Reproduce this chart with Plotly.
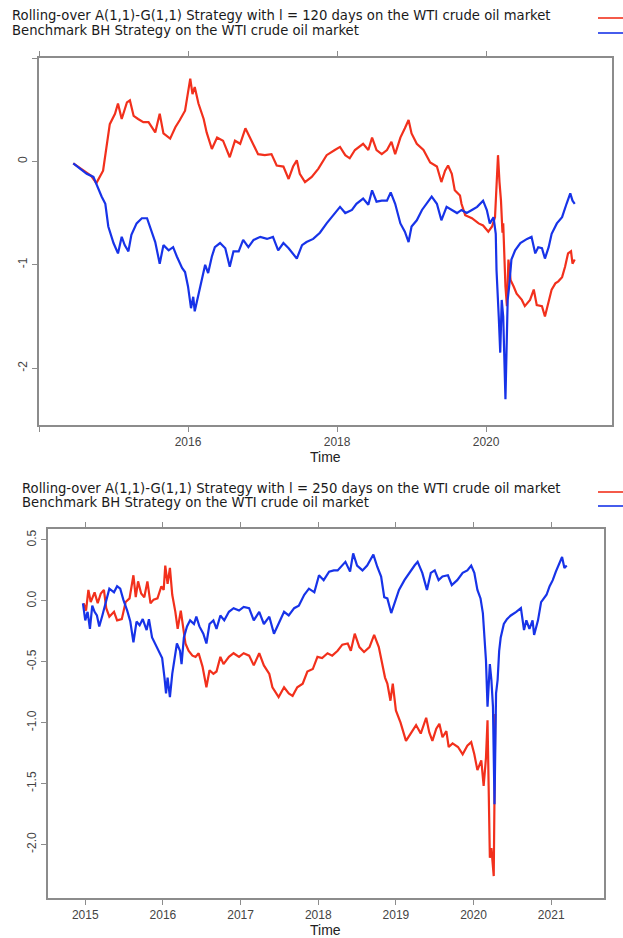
import plotly.graph_objects as go

# ---- Panel 1: l = 120 days ----
p1_red_t = [2014.46, 2014.55, 2014.62, 2014.70, 2014.77, 2014.86, 2014.91, 2014.95, 2015.02, 2015.06,
            2015.11, 2015.18, 2015.22, 2015.27, 2015.33, 2015.40, 2015.47, 2015.56, 2015.62, 2015.67,
            2015.76, 2015.83, 2015.89, 2015.96, 2016.03, 2016.06, 2016.09, 2016.14, 2016.21, 2016.25,
            2016.32, 2016.39, 2016.47, 2016.56, 2016.63, 2016.70, 2016.77, 2016.86, 2016.94, 2017.03,
            2017.12, 2017.19, 2017.28, 2017.35, 2017.41, 2017.46, 2017.50, 2017.57, 2017.66, 2017.75,
            2017.86, 2017.97, 2018.04, 2018.11, 2018.17, 2018.24, 2018.35, 2018.42, 2018.47, 2018.53,
            2018.60, 2018.67, 2018.73, 2018.78, 2018.85, 2018.91, 2018.96, 2019.00, 2019.07, 2019.16,
            2019.25, 2019.34, 2019.40, 2019.45, 2019.49, 2019.54, 2019.58, 2019.65, 2019.67, 2019.72,
            2019.81, 2019.90, 2019.96, 2020.03, 2020.08, 2020.12, 2020.14, 2020.16, 2020.18, 2020.20,
            2020.22, 2020.23, 2020.26, 2020.28, 2020.30, 2020.33, 2020.37, 2020.41, 2020.48, 2020.52,
            2020.59, 2020.64, 2020.68, 2020.75, 2020.79, 2020.84, 2020.88, 2020.93, 2020.97, 2021.02,
            2021.06, 2021.10, 2021.14, 2021.16, 2021.19]
p1_red = [-0.02, -0.07, -0.10, -0.14, -0.21, -0.09, 0.17, 0.36, 0.46, 0.56,
          0.41, 0.57, 0.59, 0.44, 0.41, 0.38, 0.38, 0.28, 0.46, 0.27,
          0.22, 0.33, 0.40, 0.49, 0.80, 0.65, 0.72, 0.56, 0.41, 0.28,
          0.12, 0.23, 0.20, 0.04, 0.20, 0.17, 0.32, 0.19, 0.07, 0.06,
          0.07, -0.04, -0.05, -0.17, -0.05, 0.01, -0.12, -0.20, -0.15, -0.07,
          0.06, 0.11, 0.14, 0.06, 0.03, 0.11, 0.17, 0.11, 0.23, 0.11,
          0.07, 0.11, 0.19, 0.07, 0.23, 0.32, 0.40, 0.27, 0.17, 0.11,
          -0.01, -0.05, -0.20, -0.09, -0.04, -0.12, -0.28, -0.33, -0.41, -0.52,
          -0.55, -0.60, -0.62, -0.68, -0.63, -0.54, -0.28, 0.06, -0.20, -0.38,
          -0.69, -0.60, -1.21, -1.40, -0.95, -1.15, -1.21, -1.28, -1.34, -1.40,
          -1.34, -1.24, -1.39, -1.40, -1.50, -1.34, -1.24, -1.18, -1.16, -1.12,
          -1.02, -0.89, -0.87, -0.99, -0.95]

p1_blue_t = [2014.46, 2014.55, 2014.64, 2014.73, 2014.80, 2014.84, 2014.89, 2014.93, 2015.00, 2015.06,
             2015.11, 2015.15, 2015.20, 2015.24, 2015.31, 2015.38, 2015.45, 2015.49, 2015.56, 2015.62,
             2015.67, 2015.74, 2015.80, 2015.85, 2015.92, 2015.96, 2016.00, 2016.04, 2016.07, 2016.09,
             2016.14, 2016.18, 2016.23, 2016.27, 2016.32, 2016.36, 2016.43, 2016.50, 2016.56, 2016.61,
             2016.68, 2016.74, 2016.81, 2016.88, 2016.97, 2017.06, 2017.14, 2017.21, 2017.28, 2017.35,
             2017.41, 2017.46, 2017.53, 2017.59, 2017.68, 2017.77, 2017.86, 2017.97, 2018.04, 2018.11,
             2018.20, 2018.26, 2018.35, 2018.42, 2018.47, 2018.53, 2018.60, 2018.67, 2018.72, 2018.78,
             2018.85, 2018.91, 2018.96, 2019.00, 2019.07, 2019.14, 2019.20, 2019.27, 2019.34, 2019.40,
             2019.47, 2019.54, 2019.61, 2019.67, 2019.74, 2019.81, 2019.88, 2019.96, 2020.01, 2020.05,
             2020.10, 2020.13, 2020.14, 2020.17, 2020.19, 2020.21, 2020.23, 2020.26, 2020.29, 2020.31,
             2020.34, 2020.39, 2020.46, 2020.55, 2020.61, 2020.66, 2020.70, 2020.75, 2020.79, 2020.84,
             2020.88, 2020.95, 2021.02, 2021.08, 2021.13, 2021.16, 2021.19]
p1_blue = [-0.02, -0.07, -0.12, -0.15, -0.28, -0.34, -0.41, -0.63, -0.79, -0.89,
           -0.73, -0.81, -0.87, -0.71, -0.60, -0.55, -0.55, -0.63, -0.78, -0.99,
           -0.81, -0.86, -0.83, -0.92, -1.03, -1.07, -1.21, -1.42, -1.31, -1.45,
           -1.28, -1.15, -1.00, -1.08, -0.92, -0.83, -0.79, -0.84, -1.02, -0.87,
           -0.87, -0.76, -0.83, -0.76, -0.73, -0.75, -0.73, -0.86, -0.79, -0.84,
           -0.89, -0.94, -0.81, -0.78, -0.75, -0.69, -0.60, -0.50, -0.44, -0.50,
           -0.47, -0.41, -0.36, -0.42, -0.28, -0.39, -0.38, -0.38, -0.30, -0.41,
           -0.60, -0.68, -0.78, -0.63, -0.57, -0.47, -0.41, -0.34, -0.41, -0.57,
           -0.44, -0.47, -0.50, -0.47, -0.50, -0.47, -0.44, -0.38, -0.47, -0.60,
           -0.54, -0.70, -1.05, -1.50, -1.85, -1.34, -1.50, -2.30, -1.34, -1.21,
           -0.95, -0.86, -0.79, -0.75, -0.73, -0.89, -0.83, -0.84, -0.94, -0.83,
           -0.70, -0.60, -0.54, -0.41, -0.31, -0.38, -0.41]

# ---- Panel 2: l = 250 days ----
p2_red_t = [2014.98, 2015.01, 2015.04, 2015.07, 2015.12, 2015.16, 2015.20, 2015.24, 2015.27, 2015.31,
            2015.37, 2015.41, 2015.47, 2015.52, 2015.57, 2015.62, 2015.65, 2015.68, 2015.72, 2015.76,
            2015.80, 2015.84, 2015.88, 2015.93, 2015.98, 2016.01, 2016.03, 2016.06, 2016.09, 2016.12,
            2016.16, 2016.19, 2016.23, 2016.26, 2016.29, 2016.33, 2016.38, 2016.42, 2016.46, 2016.51,
            2016.56, 2016.60, 2016.65, 2016.69, 2016.74, 2016.78, 2016.85, 2016.91, 2016.98, 2017.04,
            2017.11, 2017.17, 2017.24, 2017.30, 2017.37, 2017.41, 2017.45, 2017.49, 2017.56, 2017.62,
            2017.67, 2017.73, 2017.80, 2017.86, 2017.93, 2017.99, 2018.05, 2018.12, 2018.18, 2018.25,
            2018.31, 2018.38, 2018.42, 2018.47, 2018.53, 2018.59, 2018.66, 2018.72, 2018.78, 2018.83,
            2018.86, 2018.89, 2018.93, 2018.96, 2019.00, 2019.06, 2019.13, 2019.19, 2019.26, 2019.32,
            2019.39, 2019.43, 2019.47, 2019.52, 2019.56, 2019.60, 2019.65, 2019.68, 2019.73, 2019.80,
            2019.86, 2019.92, 2019.97, 2020.01, 2020.05, 2020.10, 2020.13, 2020.16, 2020.18, 2020.21,
            2020.23, 2020.26, 2020.28]
p2_red = [-0.02, -0.08, 0.09, -0.01, 0.07, -0.02, 0.06, 0.09, -0.06, -0.13,
          -0.09, -0.16, -0.15, -0.01, 0.02, 0.21, 0.03, 0.16, 0.06, 0.03,
          0.16, -0.02, 0.01, 0.02, 0.12, 0.09, 0.29, 0.14, 0.27, 0.05,
          -0.09, -0.23, -0.08, -0.24, -0.35, -0.41, -0.45, -0.46, -0.43, -0.54,
          -0.71, -0.57, -0.60, -0.58, -0.46, -0.52, -0.46, -0.43, -0.46, -0.43,
          -0.45, -0.53, -0.43, -0.53, -0.60, -0.71, -0.75, -0.79, -0.71, -0.76,
          -0.78, -0.71, -0.68, -0.58, -0.56, -0.46, -0.47, -0.43, -0.45, -0.41,
          -0.36, -0.35, -0.41, -0.27, -0.38, -0.42, -0.38, -0.28, -0.38, -0.52,
          -0.63, -0.68, -0.82, -0.68, -0.90, -1.00, -1.15, -1.09, -1.02, -1.09,
          -0.96, -1.08, -1.15, -1.05, -1.01, -1.12, -1.07, -1.20, -1.17, -1.20,
          -1.26, -1.19, -1.16, -1.26, -1.39, -1.31, -1.52, -1.29, -0.98, -2.11,
          -2.03, -2.26, -0.93]

p2_blue_t = [2014.97, 2015.00, 2015.03, 2015.06, 2015.09, 2015.12, 2015.15, 2015.18, 2015.22, 2015.25,
             2015.28, 2015.31, 2015.37, 2015.41, 2015.45, 2015.49, 2015.54, 2015.58, 2015.62, 2015.66,
             2015.70, 2015.74, 2015.79, 2015.82, 2015.86, 2015.90, 2015.95, 2015.99, 2016.02, 2016.04,
             2016.06, 2016.09, 2016.12, 2016.15, 2016.18, 2016.22, 2016.24, 2016.27, 2016.31, 2016.35,
             2016.40, 2016.43, 2016.47, 2016.52, 2016.56, 2016.60, 2016.65, 2016.69, 2016.74, 2016.79,
             2016.85, 2016.91, 2016.98, 2017.04, 2017.11, 2017.17, 2017.24, 2017.30, 2017.37, 2017.43,
             2017.49, 2017.56, 2017.62, 2017.69, 2017.75, 2017.82, 2017.88, 2017.95, 2018.01, 2018.07,
             2018.14, 2018.20, 2018.25, 2018.35, 2018.41, 2018.45, 2018.50, 2018.57, 2018.63, 2018.71,
             2018.76, 2018.81, 2018.85, 2018.89, 2018.94, 2018.99, 2019.04, 2019.11, 2019.17, 2019.24,
             2019.28, 2019.34, 2019.40, 2019.45, 2019.50, 2019.55, 2019.60, 2019.67, 2019.72, 2019.79,
             2019.86, 2019.92, 2019.97, 2020.01, 2020.05, 2020.09, 2020.12, 2020.14, 2020.16, 2020.18,
             2020.21, 2020.23, 2020.25, 2020.27, 2020.29, 2020.31, 2020.33, 2020.35, 2020.39, 2020.43,
             2020.48, 2020.55, 2020.61, 2020.65, 2020.68, 2020.72, 2020.76, 2020.78, 2020.83, 2020.87,
             2020.94, 2020.98, 2021.02, 2021.06, 2021.11, 2021.14, 2021.17, 2021.20]
p2_blue = [-0.02, -0.16, -0.09, -0.23, -0.04, -0.09, -0.12, -0.21, -0.12, -0.04,
           0.03, 0.10, 0.07, 0.12, 0.10, 0.01, -0.08, -0.17, -0.34, -0.17,
           -0.20, -0.15, -0.24, -0.15, -0.30, -0.35, -0.41, -0.47, -0.63, -0.76,
           -0.63, -0.79, -0.60, -0.49, -0.35, -0.41, -0.52, -0.30, -0.21, -0.16,
           -0.19, -0.13, -0.21, -0.27, -0.35, -0.19, -0.16, -0.23, -0.12, -0.16,
           -0.09, -0.06, -0.08, -0.05, -0.06, -0.16, -0.09, -0.19, -0.13, -0.27,
           -0.19, -0.09, -0.12, -0.06, -0.04, 0.05, 0.10, 0.07, 0.21, 0.17,
           0.24, 0.25, 0.25, 0.32, 0.24, 0.39, 0.29, 0.25, 0.29, 0.38,
           0.28, 0.20, 0.03, 0.02, -0.10, -0.01, 0.09, 0.17, 0.23, 0.29,
           0.32, 0.23, 0.09, 0.23, 0.25, 0.17, 0.20, 0.21, 0.13, 0.17,
           0.23, 0.25, 0.29, 0.23, 0.09, 0.02, -0.10, -0.32, -0.49, -0.87,
           -0.52, -0.65, -0.87, -1.67, -0.76, -0.65, -0.41, -0.30, -0.19, -0.15,
           -0.12, -0.09, -0.06, -0.24, -0.16, -0.23, -0.16, -0.28, -0.16, -0.01,
           0.05, 0.12, 0.17, 0.24, 0.32, 0.36, 0.27, 0.29]

legend_p1 = ["Rolling-over A(1,1)-G(1,1) Strategy with l = 120 days on the WTI crude oil market",
             "Benchmark BH Strategy on the WTI crude oil market"]
legend_p2 = ["Rolling-over A(1,1)-G(1,1) Strategy with l = 250 days on the WTI crude oil market",
             "Benchmark BH Strategy on the WTI crude oil market"]

p1_xticks = [2014, 2016, 2018, 2020]
p1_xtext = ["", "2016", "2018", "2020"]
p1_yticks = [1, 0, -1, -2]
p1_ytext = ["", "0", "-1", "-2"]
p2_xticks = [2015, 2016, 2017, 2018, 2019, 2020, 2021]
p2_yticks = [0.5, 0.0, -0.5, -1.0, -1.5, -2.0]
p2_ytext = ["0.5", "0.0", "-0.5", "-1.0", "-1.5", "-2.0"]

RED = "#F2301C"
BLUE = "#1733E8"
AXIS = "#8C8C8C"
FONT = "Liberation Sans, Arial, sans-serif"
KEY_FONT = "DejaVu Sans, Liberation Sans, sans-serif"
W, H = 623, 938

fig = go.Figure()
for tx, ty, col, xa, ya in [(p1_red_t, p1_red, RED, "x", "y"), (p1_blue_t, p1_blue, BLUE, "x", "y"),
                            (p2_red_t, p2_red, RED, "x2", "y2"), (p2_blue_t, p2_blue, BLUE, "x2", "y2")]:
    fig.add_trace(go.Scatter(x=tx, y=ty, mode="lines", line=dict(color=col, width=2.2),
                             xaxis=xa, yaxis=ya, showlegend=False))


def px_x(p):
    return p / W


def px_y(p):
    return 1 - p / H


axis_common = dict(showgrid=False, zeroline=False, showline=True, linecolor=AXIS, linewidth=1.5,
                   ticks="outside", ticklen=5, tickcolor=AXIS, tickwidth=1.2,
                   tickfont=dict(family=FONT, size=12, color="#444444"))

fig.update_layout(
    width=W, height=H, margin=dict(l=0, r=0, t=0, b=0),
    paper_bgcolor="white", plot_bgcolor="white",
    xaxis=dict(domain=[px_x(39), px_x(612)], range=[2014, 2021.69], anchor="y",
               tickvals=p1_xticks, ticktext=p1_xtext, mirror="allticks", **axis_common),
    yaxis=dict(domain=[px_y(425), px_y(58)], range=[-2.55, 1.0], anchor="x",
               tickvals=p1_yticks, ticktext=p1_ytext, tickangle=-90, mirror=True, **axis_common),
    xaxis2=dict(domain=[px_x(48), px_x(604)], range=[2014.52, 2021.68], anchor="y2",
                tickvals=p2_xticks, mirror="allticks", **axis_common),
    yaxis2=dict(domain=[px_y(898), px_y(529)], range=[-2.44, 0.59], anchor="x2",
                tickvals=p2_yticks, ticktext=p2_ytext, tickangle=-90, mirror=True, **axis_common),
)

annotations = []
shapes = []
for lines, x0, ys, lys in [(legend_p1, 10, (16, 30), (18, 33)), (legend_p2, 20, (488, 502), (492, 506))]:
    for txt, yy in zip(lines, ys):
        annotations.append(dict(text=txt, x=px_x(x0), y=px_y(yy), xref="paper", yref="paper",
                                xanchor="left", yanchor="middle", showarrow=False,
                                font=dict(family=KEY_FONT, size=13.2, color="#1a1a1a")))
    for col, yy in zip([RED, BLUE], lys):
        shapes.append(dict(type="line", xref="paper", yref="paper", x0=px_x(598), x1=1.0,
                           y0=px_y(yy), y1=px_y(yy), line=dict(color=col, width=1.6)))

for yy in (457, 930):
    annotations.append(dict(text="Time", x=px_x(325), y=px_y(yy), xref="paper", yref="paper",
                            xanchor="center", yanchor="middle", showarrow=False,
                            font=dict(family=FONT, size=14, color="#222222")))

fig.update_layout(annotations=annotations, shapes=shapes)
fig.write_html("out.html")
